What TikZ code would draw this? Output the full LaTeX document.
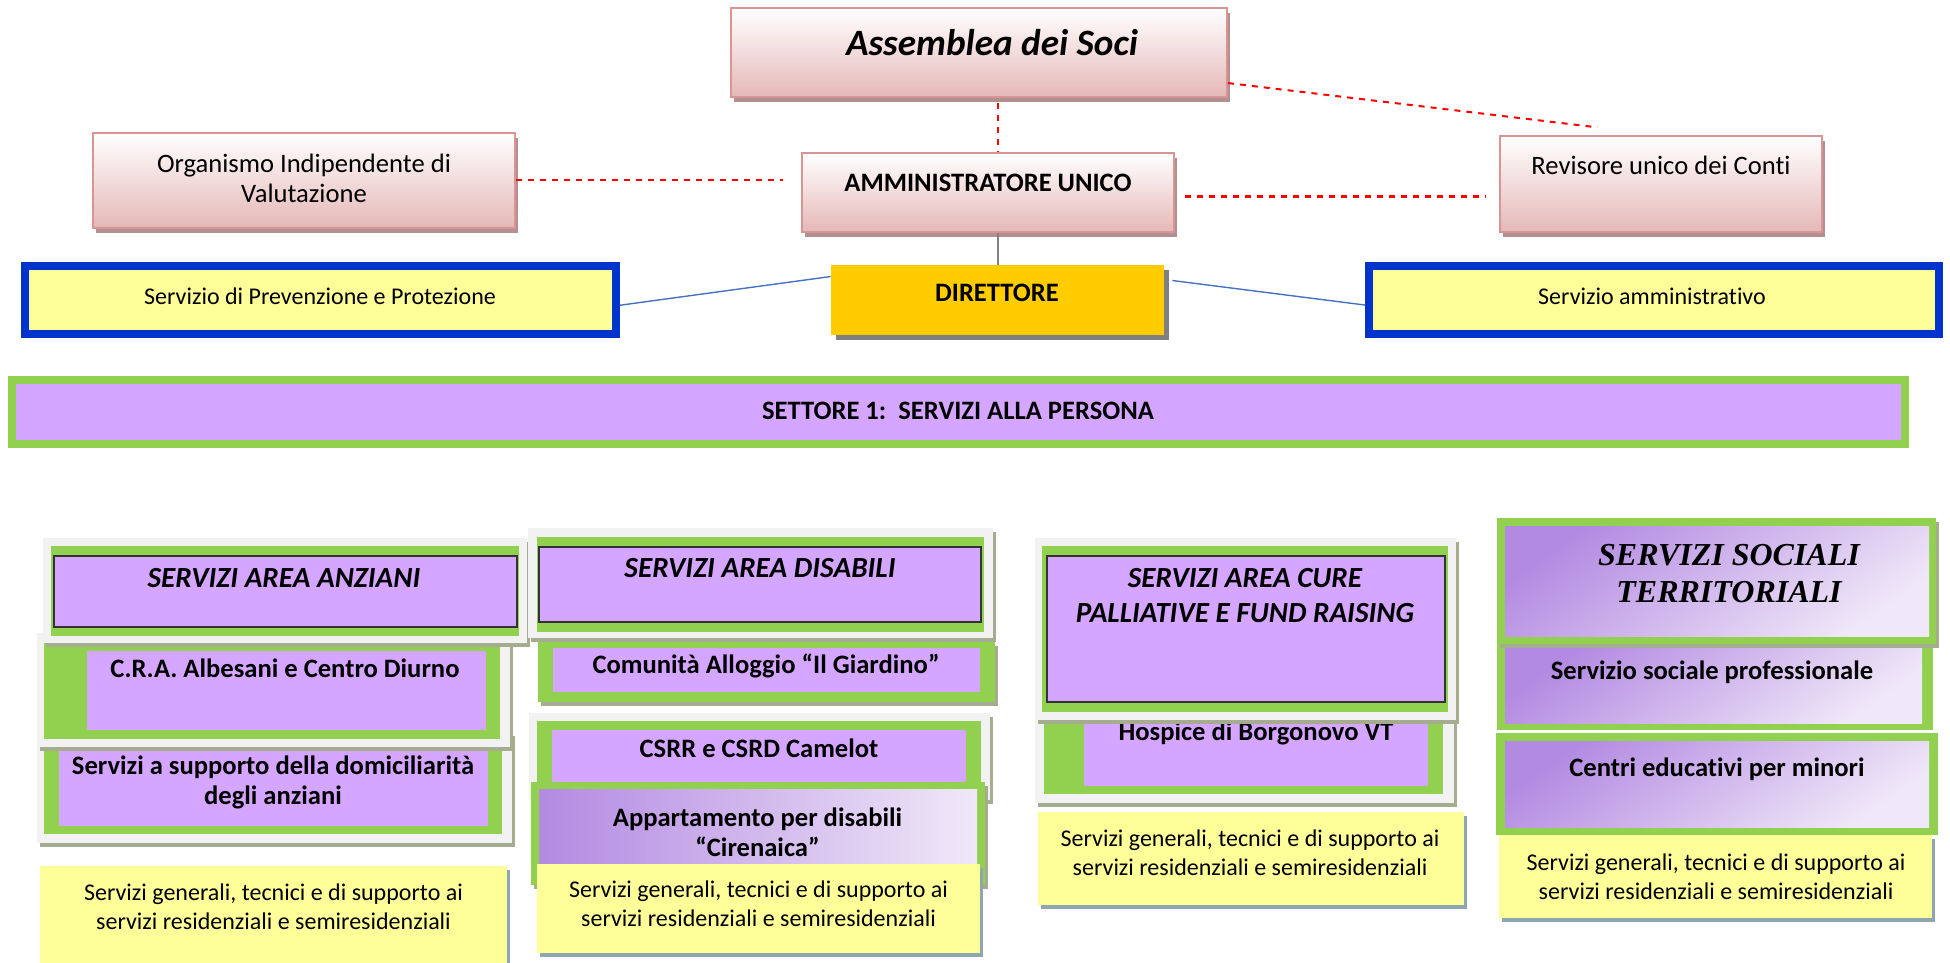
\documentclass[tikz,border=0pt]{standalone}
\usepackage{fontspec}
\setmainfont{Carlito}[Ligatures=NoCommon]
\newfontfamily\timesfont{Liberation Serif}
\usetikzlibrary{shadows}
\definecolor{pinkline}{HTML}{D99594}
\definecolor{pinkfill}{HTML}{E5B8B7}
\definecolor{pinkshadow}{HTML}{B09090}
\definecolor{gold}{HTML}{FFCC00}
\definecolor{sppblue}{HTML}{0033CC}
\definecolor{paleyellow}{HTML}{FFFF99}
\definecolor{leafgreen}{HTML}{92D050}
\definecolor{lilac}{HTML}{D4A6FF}
\definecolor{framegray}{HTML}{F2F2F2}
\definecolor{oliveshadow}{HTML}{A6AC90}
\definecolor{blueshadow}{HTML}{8EA6B0}
\definecolor{darkgrey}{HTML}{808080}
\definecolor{linkblue}{HTML}{4472C4}
\definecolor{grapedark}{HTML}{B38AE2}
\definecolor{grapelight}{HTML}{F0E8F8}
\tikzset{
  pinkbox/.style={draw=pinkline, line width=1pt, top color=white, bottom color=pinkfill,
    drop shadow={shadow xshift=1.5pt, shadow yshift=-2.5pt, fill=pinkshadow, opacity=1}},
  bluebox/.style={draw=sppblue, line width=4pt, fill=paleyellow,
    drop shadow={shadow xshift=2pt, shadow yshift=-2pt, fill=oliveshadow, opacity=1}},
  headbox/.style={fill=gold,
    drop shadow={shadow xshift=2.5pt, shadow yshift=-2.5pt, fill=darkgrey, opacity=1}},
  sectorbar/.style={draw=leafgreen, line width=4pt, fill=lilac,
    drop shadow={shadow xshift=1.5pt, shadow yshift=-2pt, fill=oliveshadow, opacity=1}},
  framebox/.style={fill=framegray,
    drop shadow={shadow xshift=1.5pt, shadow yshift=-2pt, fill=oliveshadow, opacity=1}},
  greenbox/.style={fill=leafgreen},
  greenraised/.style={fill=leafgreen,
    drop shadow={shadow xshift=1.5pt, shadow yshift=-2pt, fill=oliveshadow, opacity=1}},
  lilacbox/.style={fill=lilac},
  areabox/.style={fill=lilac, draw=black!80, line width=0.8pt},
  grapebox/.style={top color=grapedark, bottom color=grapelight, shading angle=35},
  notebox/.style={fill=paleyellow,
    drop shadow={shadow xshift=1.5pt, shadow yshift=-2pt, fill=blueshadow, opacity=1}},
  reddash/.style={red, dashed, line width=1pt},
  blueline/.style={linkblue, line width=0.7pt},
  greyline/.style={darkgrey, line width=1pt},
  regtext/.style={align=center, inner sep=0pt, font=\fontsize{13.3}{15}\selectfont},
  boldtext/.style={align=center, inner sep=0pt, font=\fontsize{13.3}{15}\selectfont\bfseries},
  smalltext/.style={align=center, inner sep=0pt, font=\fontsize{12}{14.5}\selectfont},
  areatext/.style={align=center, inner sep=0pt, font=\fontsize{14.6}{17.5}\selectfont\bfseries\itshape},
  titletext/.style={align=center, inner sep=0pt, font=\fontsize{18.6}{22}\selectfont\bfseries\itshape},
  seriftext/.style={align=center, inner sep=0pt, font=\timesfont\fontsize{16}{18.5}\selectfont\bfseries\itshape},
}
\begin{document}
\begin{tikzpicture}[x=0.5pt, y=-0.5pt]
  \useasboundingbox (0,0) rectangle (1950,963);

  \node[pinkbox, minimum width=248pt, minimum height=44.5pt] (assemblea) at (979,52.5) {};
  \node[titletext] (assemblea-t) at (992,43) {Assemblea dei Soci};

  \node[pinkbox, minimum width=211pt, minimum height=47.5pt] (oiv) at (304,180.5) {};
  \node[regtext] (oiv-t) at (304,178) {Organismo Indipendente di\\Valutazione};

  \node[pinkbox, minimum width=186pt, minimum height=39.5pt] (ammin) at (988,192.5) {};
  \node[boldtext] (ammin-t) at (988,183) {AMMINISTRATORE UNICO};

  \node[pinkbox, minimum width=161pt, minimum height=48pt] (revisore) at (1661,184) {};
  \node[regtext] (revisore-t) at (1661,165) {Revisore unico dei Conti};

  \node[headbox, minimum width=166.5pt, minimum height=35pt] (direttore) at (997.5,300) {};
  \node[boldtext] (direttore-t) at (997,293) {DIRETTORE};

  \node[bluebox, minimum width=295.5pt, minimum height=34pt] (spp) at (320.5,300) {};
  \node[smalltext] (spp-t) at (320,296) {Servizio di Prevenzione e Protezione};

  \node[bluebox, minimum width=285pt, minimum height=34pt] (amm) at (1654,300) {};
  \node[smalltext] (amm-t) at (1652,296) {Servizio amministrativo};

  \draw[reddash, shorten <=2.5pt] (direttore.north |- assemblea.south) -- (direttore.north |- ammin.north);
  \draw[reddash, shorten >=9pt] (oiv.east) -- (oiv.east -| ammin.west);
  \draw[reddash, shorten >=32pt] (assemblea.-7) -- (revisore.north);
  \draw[reddash, shorten <=5pt, shorten >=6.5pt] ([yshift=-2pt]ammin.east) -- ([yshift=-2pt]ammin.east -| revisore.west);
  \draw[greyline] (direttore.north) -- (direttore.north |- ammin.south);
  \draw[blueline] (spp.-1.3) -- (direttore.172);
  \draw[blueline, shorten <=4pt] (direttore.7.5) -- (amm.181.2);

  \node[sectorbar, minimum width=946.5pt, minimum height=32pt] (settore) at (958.5,412) {};
  \node[boldtext] (settore-t) at (958,411) {SETTORE 1:\ \ SERVIZI ALLA PERSONA};

  \fill[framebox] (37,732) rectangle (512,843);
  \fill[greenbox] (44,747) rectangle (502,834);
  \fill[lilacbox] (59,750) rectangle (488,826);
  \node[boldtext] (dom-t) at (273,782) {Servizi a supporto della domiciliarità\\degli anziani};
  \fill[framebox] (37,633) rectangle (510,747);
  \fill[greenbox] (44,643) rectangle (500,739);
  \fill[lilacbox] (87,651) rectangle (486,730);
  \node[boldtext] (cra-t) at (285,668) {C.R.A. Albesani e Centro Diurno};
  \fill[framebox] (43,538) rectangle (527,643);
  \fill[greenbox] (51,546) rectangle (519,636);
  \filldraw[areabox] (54,556) rectangle (517,627);
  \node[areatext] (anziani-t) at (284,578) {SERVIZI AREA ANZIANI};
  \fill[notebox] (40,866) rectangle (507,963);
  \node[smalltext] (note1-t) at (273.5,906.5) {Servizi generali, tecnici e di supporto ai\\servizi residenziali e semiresidenziali};

  \fill[greenraised] (538,642) rectangle (995,702);
  \fill[lilacbox] (553,648) rectangle (980,692);
  \node[boldtext] (giardino-t) at (766,666) {Comunità Alloggio “Il Giardino”};
  \fill[framebox] (528,528) rectangle (993,638);
  \fill[greenbox] (537,537) rectangle (984,632);
  \filldraw[areabox] (539,547) rectangle (981,622);
  \node[areatext] (disabili-t) at (760,568) {SERVIZI AREA DISABILI};
  \fill[framebox] (529,713) rectangle (990,800);
  \fill[greenbox] (537,721) rectangle (981,790);
  \fill[lilacbox] (552,730) rectangle (966,782);
  \node[boldtext] (csrr-t) at (759,748) {CSRR e CSRD Camelot};
  \fill[greenraised] (531,782) rectangle (985,885);
  \fill[left color=grapedark, right color=grapelight] (539,789) rectangle (977,875);
  \node[boldtext] (cirenaica-t) at (757.5,832) {Appartamento per disabili\\“Cirenaica”};
  \fill[notebox] (537,864) rectangle (980,953);
  \node[smalltext] (note2-t) at (758.5,904) {Servizi generali, tecnici e di supporto ai\\servizi residenziali e semiresidenziali};

  \fill[framebox] (1035,705) rectangle (1454,803);
  \fill[greenbox] (1044,705) rectangle (1443,794);
  \fill[lilacbox] (1084,712) rectangle (1428,786);
  \node[boldtext] (hospice-t) at (1256,733) {Hospice di Borgonovo VT};
  \fill[framebox] (1035,538) rectangle (1456,720);
  \fill[greenbox] (1042,546) rectangle (1448,712);
  \filldraw[areabox] (1047,556) rectangle (1445,702);
  \node[areatext] (cure-t) at (1245,595.5) {SERVIZI AREA CURE\\PALLIATIVE E FUND RAISING};
  \fill[notebox] (1038,812) rectangle (1464,905);
  \node[smalltext] (note3-t) at (1250,852.5) {Servizi generali, tecnici e di supporto ai\\servizi residenziali e semiresidenziali};

  \fill[greenbox] (1497,644) rectangle (1933,730);
  \fill[grapebox] (1505,648) rectangle (1922,723);
  \node[boldtext] (prof-t) at (1712,672) {Servizio sociale professionale};
  \fill[greenraised] (1497,518) rectangle (1936,644);
  \fill[grapebox] (1505,526) rectangle (1929,636);
  \node[seriftext] (sociali-t) at (1729,573.5) {SERVIZI SOCIALI\\TERRITORIALI};
  \fill[greenbox] (1496,733) rectangle (1938,835);
  \fill[grapebox] (1505,741) rectangle (1929,827);
  \node[boldtext] (minori-t) at (1717,769) {Centri educativi per minori};
  \fill[notebox] (1499,835) rectangle (1932,918);
  \node[smalltext] (note4-t) at (1716,876.5) {Servizi generali, tecnici e di supporto ai\\servizi residenziali e semiresidenziali};
\end{tikzpicture}
\end{document}
